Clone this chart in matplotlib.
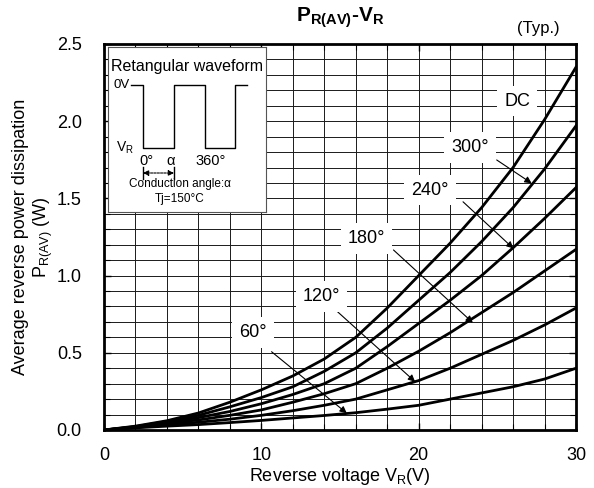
import matplotlib
matplotlib.use("Agg")
import matplotlib.pyplot as plt
from matplotlib.ticker import MultipleLocator

plt.rcParams['font.family'] = ['Liberation Sans', 'DejaVu Sans']
plt.rcParams['mathtext.fontset'] = 'custom'
plt.rcParams['mathtext.rm'] = 'Liberation Sans'
plt.rcParams['mathtext.bf'] = 'Liberation Sans:bold'
plt.rcParams['mathtext.it'] = 'Liberation Sans:italic'

# ---- data ----
v_r = [0, 2, 4, 6, 8, 10, 12, 14, 16, 18, 20, 22, 24, 26, 28, 30]
p_dc   = [0, 0.025, 0.06, 0.11, 0.18, 0.26, 0.35, 0.46, 0.60, 0.79, 1.00, 1.21, 1.44, 1.70, 2.01, 2.35]
p_300  = [0, 0.022, 0.055, 0.095, 0.15, 0.21, 0.28, 0.38, 0.50, 0.66, 0.84, 1.02, 1.22, 1.44, 1.69, 1.97]
p_240  = [0, 0.02, 0.05, 0.08, 0.12, 0.17, 0.23, 0.30, 0.40, 0.54, 0.69, 0.84, 1.00, 1.18, 1.37, 1.57]
p_180  = [0, 0.018, 0.045, 0.065, 0.095, 0.13, 0.18, 0.235, 0.30, 0.40, 0.51, 0.63, 0.76, 0.89, 1.03, 1.17]
p_120  = [0, 0.016, 0.035, 0.05, 0.07, 0.095, 0.125, 0.16, 0.20, 0.26, 0.32, 0.40, 0.49, 0.58, 0.68, 0.79]
p_60   = [0, 0.014, 0.025, 0.035, 0.048, 0.062, 0.078, 0.094, 0.112, 0.135, 0.16, 0.20, 0.24, 0.28, 0.33, 0.40]
series = [p_dc, p_300, p_240, p_180, p_120, p_60]

labels = ['DC', '300°', '240°', '180°', '120°', '60°']
label_xy = [(26.25, 2.13), (23.27, 1.83), (20.72, 1.554), (16.7, 1.24), (13.84, 0.863), (9.47, 0.631)]
arrow_from = [None, (24.96, 1.749), (22.82, 1.478), (18.40, 1.166), (14.68, 0.781), (10.65, 0.507)]
arrow_to = [None, (27.18, 1.598), (26.02, 1.176), (23.44, 0.695), (19.77, 0.313), (15.43, 0.109)]

xticks = [0, 10, 20, 30]
yticks = [0.0, 0.5, 1.0, 1.5, 2.0, 2.5]

W, H = 594, 488
fig = plt.figure(figsize=(W / 100, H / 100), dpi=100)
ax = fig.add_axes([104 / W, 1 - 430 / H, (576 - 104) / W, (430 - 44) / H])

ax.set_xlim(0, 30)
ax.set_ylim(0, 2.5)
ax.set_xticks(xticks)
ax.set_yticks(yticks)
ax.set_yticklabels([f"{t:.1f}" for t in yticks])
ax.xaxis.set_minor_locator(MultipleLocator(2))
ax.yaxis.set_minor_locator(MultipleLocator(0.1))
ax.grid(True, which='both', color='#1a1a1a', lw=0.7)
ax.tick_params(which='both', direction='in', top=True, right=True, labelsize=13, color='black')
ax.tick_params(which='major', length=5, width=1)
ax.tick_params(axis='x', which='major', pad=12)
ax.tick_params(axis='y', which='major', pad=16)
ax.tick_params(which='minor', length=4, width=0.8)
for s in ax.spines.values():
    s.set_linewidth(2)
ax.set_axisbelow(True)

for p in series:
    ax.plot(v_r, p, color='black', lw=2, zorder=3)

for lab, xy, fr, to in zip(labels, label_xy, arrow_from, arrow_to):
    if fr is not None:
        ax.annotate('', xy=to, xytext=fr,
                    arrowprops=dict(arrowstyle='-|>', color='black', lw=0.8,
                                    mutation_scale=10, shrinkA=0, shrinkB=0),
                    zorder=5)
    ax.text(xy[0], xy[1], lab, ha='center', va='center', fontsize=13, zorder=6,
            bbox=dict(facecolor='white', edgecolor='none', pad=5))

ax.set_xlabel('Reverse voltage V$_\\mathregular{R}$(V)', fontsize=13, labelpad=2)
ax.set_ylabel('Average reverse power dissipation\nP$_\\mathregular{R(AV)}$ (W)', fontsize=13, labelpad=1)

fig.text(340 / W, 1 - 18 / H, '$\\mathbf{P_{R(AV)}}$-$\\mathbf{V_R}$', ha='center', va='center',
         fontsize=15, fontweight='bold')
fig.text(538 / W, 1 - 28 / H, '(Typ.)', ha='center', va='center', fontsize=12)

# ---- inset: rectangular waveform (pixel coordinates) ----
x0, x1, y0, y1 = 108, 266, 47, 212
ins = fig.add_axes([x0 / W, 1 - y1 / H, (x1 - x0) / W, (y1 - y0) / H], zorder=10)
ins.set_xlim(x0, x1)
ins.set_ylim(y1, y0)
ins.set_xticks([])
ins.set_yticks([])
ins.set_facecolor('white')
for s in ins.spines.values():
    s.set_linewidth(0.8)
    s.set_color('#555555')

ins.text(187, 67, 'Retangular waveform', ha='center', va='center', fontsize=11.5)
ins.text(114, 85, '0V', ha='left', va='center', fontsize=9.5)
wx = [131, 143, 143, 174, 174, 205, 205, 235, 235, 247]
wy = [85, 85, 148, 148, 85, 85, 148, 148, 85, 85]
ins.plot(wx, wy, color='black', lw=1)
ins.text(116, 148, 'V$_\\mathregular{R}$', ha='left', va='center', fontsize=10)
ins.text(146, 161, '0°', ha='center', va='center', fontsize=10.5)
ins.text(171, 161, 'α', ha='center', va='center', fontsize=10.5)
ins.text(211, 161, '360°', ha='center', va='center', fontsize=10.5)
ins.plot([143, 143], [167, 179], color='black', lw=1)
ins.plot([174, 174], [167, 179], color='black', lw=1)
ins.annotate('', xy=(143, 173), xytext=(174, 173),
             arrowprops=dict(arrowstyle='<|-|>', color='black', lw=0.8, ls=(0, (2, 1)),
                             mutation_scale=8, shrinkA=0, shrinkB=0))
ins.text(180, 184, 'Conduction angle:α', ha='center', va='center', fontsize=8.5)
ins.text(180, 199, 'Tj=150°C', ha='center', va='center', fontsize=8.5)

fig.savefig('out.png', dpi=100)
